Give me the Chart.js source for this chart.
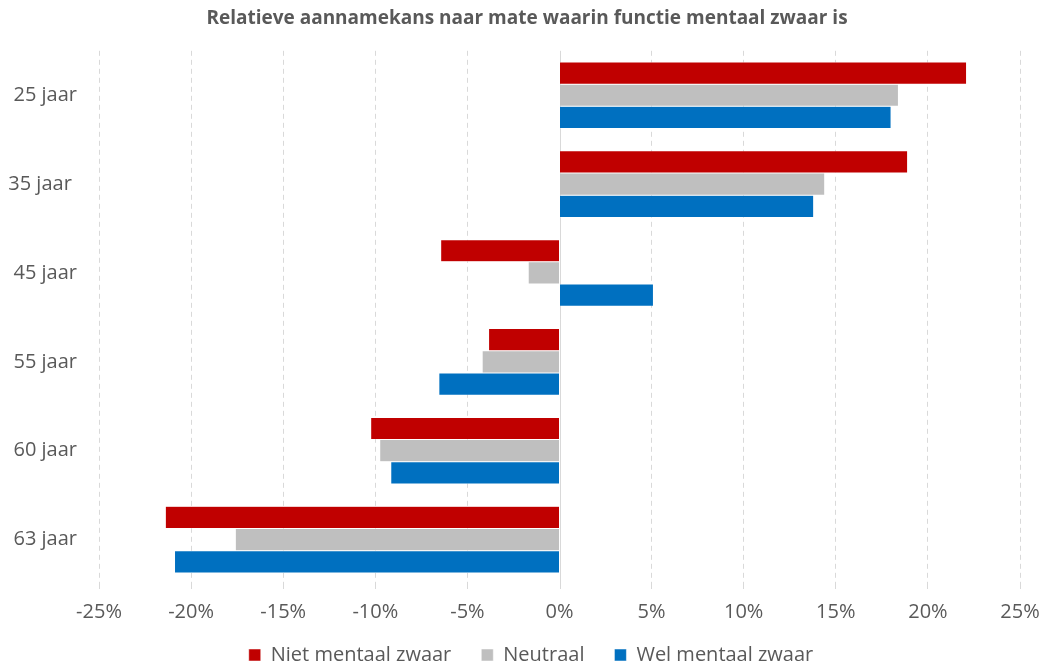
<!DOCTYPE html>
<html>
<head>
<meta charset="utf-8">
<script src="https://cdn.jsdelivr.net/npm/chart.js@4/dist/chart.umd.min.js"></script>
<style>
  html, body { margin: 0; padding: 0; background: #fff; }
  #wrap { width: 1046px; height: 669px; position: relative; }
</style>
</head>
<body>
<div id="wrap"><canvas id="chart"></canvas></div>
<script>
// Leeftijden (categorieën)
const categories = ['25 jaar', '35 jaar ', '45 jaar', '55 jaar', '60 jaar', '63 jaar'];

// Relatieve aannamekans in procenten per reeks
const nietMentaalZwaar = [22.1, 18.9, -6.45, -3.85, -10.25, -21.4];
const neutraal = [18.4, 14.4, -1.7, -4.2, -9.76, -17.6];
const welMentaalZwaar = [18.0, 13.8, 5.1, -6.55, -9.16, -20.9];

const seriesLabels = ['Niet mentaal zwaar', 'Neutraal', 'Wel mentaal zwaar'];
const seriesColors = ['#C00000', '#BFBFBF', '#0070C0'];

const textColor = '#595959';
const gridColor = '#D9D9D9';
const fontFamily = "'Open Sans', sans-serif";

// doorgetrokken nullijn onder de balken
const zeroLine = {
    id: 'zeroLine',
    beforeDatasetsDraw(chart) {
        const { ctx, chartArea, scales } = chart;
        const x = Math.round(scales.x.getPixelForValue(0)) + 0.5;
        ctx.save();
        ctx.strokeStyle = gridColor;
        ctx.lineWidth = 1;
        ctx.beginPath();
        ctx.moveTo(x, chartArea.top);
        ctx.lineTo(x, chartArea.bottom + 5);
        ctx.stroke();
        ctx.restore();
    }
};

// titel en legenda iets naar rechts, legenda iets omhoog
const shiftBoxes = {
    id: 'shiftBoxes',
    afterLayout(chart) {
        chart.titleBlock.left += 17;
        chart.titleBlock.right += 17;
        chart.legend.left += 21;
        chart.legend.right += 21;
        chart.legend.top -= 20;
        chart.legend.bottom -= 20;
    }
};

const ctx = document.getElementById('chart').getContext('2d');
new Chart(ctx, {
    type: 'bar',
    data: {
        labels: categories,
        datasets: [nietMentaalZwaar, neutraal, welMentaalZwaar].map((values, i) => ({
            label: seriesLabels[i],
            data: values,
            backgroundColor: seriesColors[i],
            borderColor: '#ffffff',
            borderWidth: 0.5,
            barPercentage: 1,
            categoryPercentage: 0.75
        }))
    },
    options: {
        indexAxis: 'y',
        responsive: true,
        maintainAspectRatio: false,
        animation: false,
        layout: {
            padding: { left: 0, right: 26, top: 0, bottom: -26 }
        },
        scales: {
            x: {
                min: -25,
                max: 25,
                ticks: {
                    stepSize: 5,
                    color: textColor,
                    padding: 11,
                    font: { family: fontFamily, size: 20 },
                    callback: v => v + '%'
                },
                grid: {
                    color: c => c.tick && c.tick.value === 0 ? 'rgba(0,0,0,0)' : gridColor,
                    lineWidth: 1,
                    tickLength: 5
                },
                border: { display: false, dash: [5, 4] },
                afterFit: scale => {
                    scale.paddingLeft = 0;
                    scale.paddingRight = 0;
                }
            },
            y: {
                ticks: {
                    color: textColor,
                    padding: 14,
                    font: { family: fontFamily, size: 20 }
                },
                grid: { display: false },
                border: { display: false },
                afterFit: scale => { scale.width = 99; }
            }
        },
        plugins: {
            title: {
                display: true,
                text: 'Relatieve aannamekans naar mate waarin functie mentaal zwaar is',
                color: textColor,
                font: { family: fontFamily, size: 19, weight: 'bold' },
                padding: { top: 7, bottom: 21 }
            },
            legend: {
                position: 'bottom',
                labels: {
                    color: textColor,
                    font: { family: fontFamily, size: 20 },
                    boxWidth: 12,
                    boxHeight: 12,
                    padding: 30
                }
            },
            tooltip: { enabled: false }
        }
    },
    plugins: [zeroLine, shiftBoxes]
});
</script>
</body>
</html>
